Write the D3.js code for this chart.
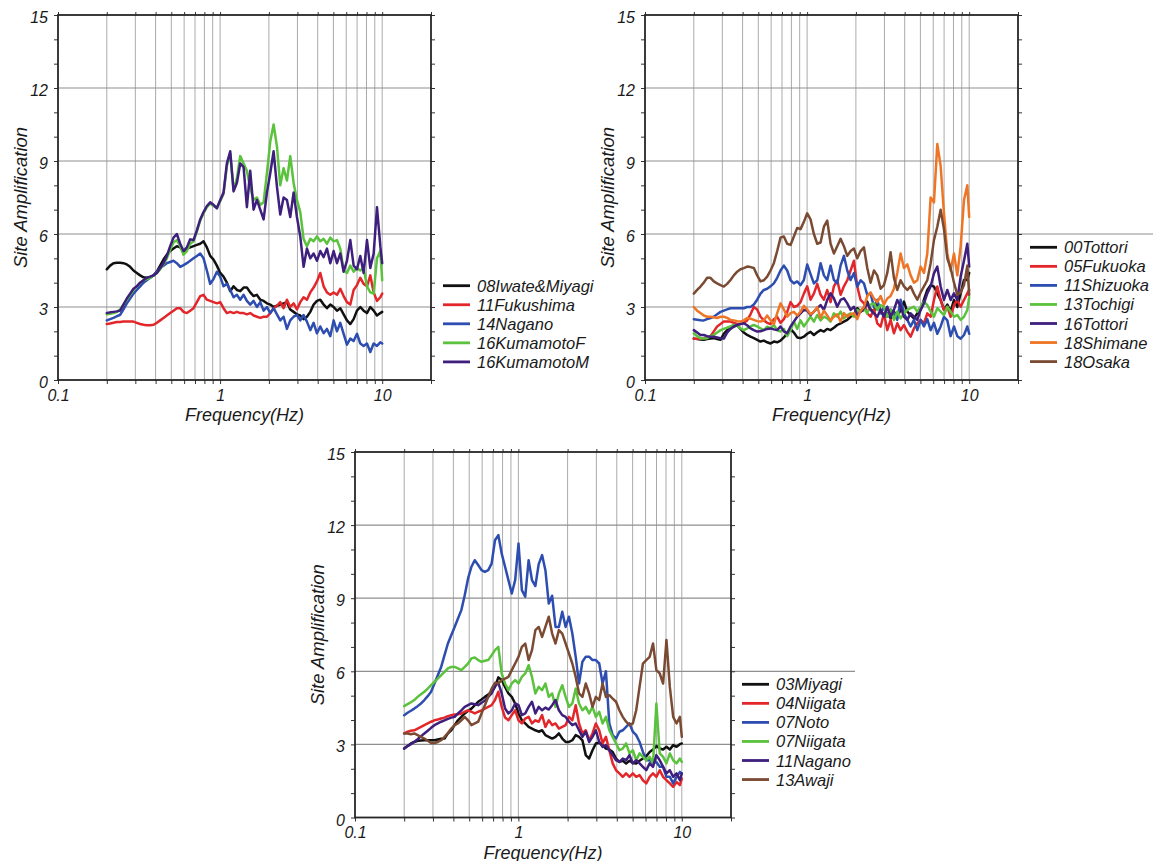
<!DOCTYPE html>
<html>
<head>
<meta charset="utf-8">
<script src="https://cdn.jsdelivr.net/npm/d3@7"></script>
<style>
  body { margin: 0; background: #fff; }
  text { font-family: "Liberation Sans", Arial, sans-serif; font-style: italic; fill: #1a1a1a; }
</style>
</head>
<body>
<svg id="chart" width="1161" height="861"></svg>
<script>
// Common frequency sampling (Hz) shared by every site-amplification curve
const freqHz = [0.2000,0.2097,0.2199,0.2305,0.2417,0.2535,0.2658,0.2786,0.2922,0.3063,
  0.3212,0.3368,0.3531,0.3703,0.3882,0.4071,0.4268,0.4475,0.4693,0.4920,
  0.5159,0.5410,0.5672,0.5947,0.6236,0.6538,0.6856,0.7188,0.7537,0.7903,
  0.8286,0.8688,0.9110,0.9552,1.0015,1.050,1.101,1.155,1.211,1.270,
  1.331,1.396,1.463,1.534,1.609,1.687,1.769,1.855,1.945,2.039,
  2.138,2.242,2.350,2.464,2.584,2.709,2.841,2.978,3.123,3.274,
  3.433,3.600,3.775,3.958,4.150,4.351,4.562,4.784,5.016,5.259,
  5.514,5.782,6.062,6.356,6.665,6.988,7.327,7.683,8.055,8.446,
  8.856,9.286,9.736,10.0];

// Upper-left group
const iwateMiyagi08 = [4.55,4.7,4.8,4.82,4.82,4.8,4.75,4.65,4.5,4.4, 4.3,4.22,4.2,4.22,4.3,4.45,4.7,4.95,5.15,5.3, 5.4,5.5,5.45,5.3,5.4,5.45,5.5,5.55,5.6,5.7, 5.45,5.1,4.95,4.7,4.4,4.25,4.0,3.65,3.85,3.7, 3.65,3.8,3.8,3.6,3.45,3.5,3.3,3.25,3.15,3.1, 3.0,3.05,3.1,3.15,3.2,2.9,2.8,2.7,2.65,2.5, 2.6,2.8,3.1,3.25,3.3,3.1,2.95,3.1,3.0,2.85, 2.95,2.7,2.45,2.3,2.5,2.85,3.0,2.85,2.75,3.0, 2.85,2.65,2.75,2.8];
const fukushima11 = [2.3,2.32,2.35,2.38,2.38,2.4,2.4,2.4,2.4,2.35, 2.3,2.27,2.25,2.25,2.27,2.35,2.45,2.55,2.65,2.75, 2.85,2.95,2.95,2.8,2.75,2.85,2.95,3.2,3.45,3.5, 3.3,3.25,3.2,3.15,3.2,2.95,2.75,2.8,2.75,2.8, 2.75,2.75,2.7,2.75,2.65,2.6,2.55,2.6,2.6,2.75, 2.95,3.05,3.2,2.95,3.3,3.0,3.15,2.9,3.2,3.4, 3.3,3.6,3.8,4.05,4.4,3.85,3.6,3.5,3.6,3.5, 3.75,3.45,3.2,3.1,3.7,3.9,4.2,3.95,3.85,4.3, 3.6,3.25,3.4,3.55];
const nagano14 = [2.45,2.5,2.55,2.62,2.68,2.9,3.15,3.35,3.55,3.7, 3.85,4.0,4.1,4.2,4.3,4.45,4.6,4.7,4.8,4.85, 4.9,4.8,4.65,4.72,4.8,4.9,5.0,5.1,5.2,5.0, 4.5,3.95,4.15,4.45,4.25,3.85,3.95,3.7,3.4,3.5, 3.3,3.5,3.25,3.1,3.25,3.0,3.2,2.85,3.0,2.75, 2.95,2.7,2.45,2.6,2.1,2.45,2.6,2.67,2.45,2.67, 2.4,2.05,2.35,1.92,2.2,1.92,2.1,1.8,2.45,2.0, 2.35,1.9,1.45,1.7,1.6,1.9,1.5,1.4,1.5,1.15, 1.5,1.4,1.55,1.5];
const kumamotoF16 = [2.7,2.72,2.75,2.8,2.9,3.1,3.3,3.5,3.7,3.85, 4.0,4.1,4.15,4.2,4.3,4.4,4.55,4.75,5.0,5.35, 5.65,5.75,5.5,5.15,5.3,5.6,5.7,6.1,6.55,6.85, 7.1,7.25,7.15,7.1,7.35,7.65,8.8,9.3,7.8,8.3, 9.2,8.9,8.6,7.9,7.4,7.5,7.2,7.3,8.5,9.8, 10.5,9.6,8.0,8.7,8.2,9.2,8.1,7.4,6.9,5.8, 5.5,5.8,5.7,5.9,5.7,5.8,5.6,5.85,5.7,5.75, 5.4,4.5,4.4,4.7,4.45,4.6,4.5,4.6,3.85,3.6, 3.55,5.0,5.3,4.1];
const kumamotoM16 = [2.75,2.78,2.8,2.82,2.85,3.1,3.35,3.55,3.75,3.85, 4.0,4.1,4.2,4.25,4.3,4.4,4.6,4.8,5.1,5.5, 5.85,6.0,5.6,5.3,5.45,5.78,5.75,6.15,6.6,6.9, 7.15,7.3,7.2,7.05,7.4,7.7,8.9,9.4,7.75,8.1, 8.9,8.75,7.1,8.6,7.0,7.4,7.0,6.6,7.7,8.5, 9.4,7.95,6.8,7.5,7.4,6.7,7.7,6.7,5.9,4.65, 5.4,5.0,5.2,4.9,5.3,5.05,5.4,4.8,5.3,4.8, 5.2,4.45,4.9,5.75,4.7,4.55,5.1,4.4,5.75,4.6, 5.2,7.1,5.5,4.8];

// Upper-right group
const tottori00 = [1.7,1.68,1.66,1.65,1.68,1.7,1.72,1.68,1.65,1.9, 2.05,2.12,2.2,2.25,2.1,1.95,1.85,1.78,1.72,1.65, 1.58,1.62,1.55,1.5,1.58,1.55,1.62,1.75,1.92,2.1, 1.95,1.75,1.72,1.78,1.9,1.98,1.85,1.96,2.05,1.99, 2.1,2.05,2.15,2.26,2.33,2.4,2.47,2.6,2.67,2.95, 2.81,2.88,3.22,2.9,2.81,3.2,2.88,2.6,2.74,2.53, 2.81,2.6,2.88,3.22,2.81,2.67,2.53,2.74,2.88,3.3, 3.7,3.9,3.84,3.56,3.29,2.88,3.1,2.81,3.29,3.0, 3.56,4.11,4.11,4.4];
const fukuoka05 = [1.7,1.7,1.7,1.72,1.75,1.8,2.0,2.2,2.3,2.4, 2.4,2.4,2.35,2.3,2.3,2.35,2.45,2.7,3.0,2.9, 2.6,2.45,2.35,2.3,2.5,2.6,2.35,2.5,2.8,3.2, 3.0,3.05,3.2,3.55,3.85,3.3,3.55,3.95,3.5,3.3, 3.7,3.2,3.85,4.1,3.5,3.85,4.1,4.5,4.9,3.84, 3.29,3.15,2.74,2.6,2.9,2.33,2.19,2.74,2.05,2.47, 1.92,2.33,2.05,2.26,1.99,1.78,2.12,2.33,2.47,2.33, 2.74,2.6,3.29,3.84,3.29,2.88,3.01,2.6,3.08,3.29, 3.01,3.29,3.56,3.7];
const shizuoka11 = [2.5,2.48,2.46,2.45,2.5,2.55,2.6,2.7,2.8,2.85, 2.9,2.95,2.95,2.95,2.95,2.95,3.0,3.0,3.1,3.3, 3.55,3.7,3.75,3.85,3.97,4.2,4.5,4.7,4.5,4.1, 3.97,4.05,3.9,4.11,4.75,4.35,3.97,4.1,4.8,4.3, 4.11,4.7,4.11,3.97,4.7,5.1,4.5,4.11,4.4,3.84, 4.1,3.97,3.5,3.56,3.0,3.3,2.74,3.0,2.6,2.9, 2.75,2.47,3.3,2.74,2.47,2.2,2.47,2.05,2.47,2.2, 2.5,2.05,2.35,1.9,2.2,2.6,2.45,1.8,2.2,1.8, 1.7,1.85,2.2,1.9];
const tochigi13 = [1.92,1.8,1.72,1.71,1.72,1.8,1.85,1.95,2.05,2.1, 2.15,2.2,2.26,2.25,2.12,2.05,2.12,2.2,2.26,2.2, 2.12,2.05,2.19,2.12,2.26,2.05,1.99,2.1,1.8,2.05, 2.4,2.1,2.45,2.2,2.4,2.6,2.4,2.67,2.45,2.6, 2.53,2.4,2.74,2.6,2.81,2.53,2.67,2.74,2.6,2.88, 2.81,2.95,2.74,3.1,3.15,2.88,3.08,3.01,2.6,2.88, 2.47,2.81,2.53,2.74,2.88,2.95,3.01,2.81,3.01,3.22, 3.08,2.81,2.6,2.95,2.81,2.67,3.01,2.81,2.6,2.67, 2.47,2.6,2.88,3.4];
const tottori16 = [2.05,1.95,1.85,1.85,1.8,1.78,1.78,1.75,1.72,1.7, 1.95,2.1,2.2,2.26,2.3,2.33,2.25,2.12,2.05,1.99, 2.0,2.05,2.1,2.12,2.08,2.05,2.2,2.0,1.92,2.2, 2.4,2.6,2.74,2.88,2.85,2.67,2.81,2.95,3.08,2.88, 3.29,3.56,3.36,3.01,3.29,3.36,3.15,2.88,3.01,2.67, 2.81,2.95,3.15,2.88,2.74,2.6,2.88,2.6,3.01,2.6, 2.88,3.29,3.01,2.6,2.47,2.74,2.6,2.47,2.88,3.15, 3.56,3.84,4.38,4.66,3.84,3.29,3.7,3.29,3.56,3.29, 4.25,4.9,5.6,4.66];
const shimane18 = [3.0,2.85,2.75,2.65,2.6,2.6,2.58,2.55,2.6,2.6, 2.55,2.47,2.45,2.42,2.4,2.45,2.55,2.52,2.47,2.42, 2.4,2.45,2.65,2.45,2.3,2.75,3.15,2.9,2.6,2.75, 2.8,2.65,2.8,3.05,2.9,2.7,2.8,3.0,2.55,2.85, 2.65,2.45,2.6,2.7,2.4,2.75,2.6,2.7,2.75,2.5, 2.85,3.0,3.45,3.6,3.35,3.2,3.45,3.1,3.35,3.45, 3.75,4.4,5.2,4.6,4.75,4.3,4.0,4.1,4.66,4.4, 5.2,7.5,7.3,9.7,8.8,6.85,5.2,4.5,5.2,4.3, 5.5,7.4,8.0,6.7];
const osaka18 = [3.55,3.7,3.84,4.0,4.2,4.2,4.05,3.97,3.9,3.84, 3.95,4.11,4.3,4.45,4.55,4.6,4.66,4.64,4.6,4.3, 4.05,4.1,4.25,4.5,4.8,5.3,5.85,5.9,5.6,5.55, 5.9,6.25,6.2,6.5,6.85,6.6,6.0,5.6,5.65,6.3, 6.55,5.6,5.2,5.5,5.8,5.5,5.1,5.3,5.4,5.0, 5.3,5.45,4.6,4.0,4.5,4.3,3.75,3.9,4.4,5.25, 4.2,3.7,4.1,3.85,3.7,3.85,3.55,3.3,3.6,3.85, 4.1,4.8,5.75,6.3,7.0,6.2,5.0,4.6,4.0,3.5, 3.6,3.9,4.7,3.5];

// Lower group
const miyagi03 = [2.83,2.93,3.04,3.1,3.15,3.16,3.17,3.17,3.17,3.17, 3.2,3.23,3.24,3.45,3.58,3.79,3.99,4.13,4.27,4.38, 4.47,4.61,4.75,4.84,4.95,5.05,5.16,5.36,5.75,5.64, 5.36,5.09,4.95,4.68,4.27,3.99,3.86,3.72,3.65,3.58, 3.52,3.58,3.38,3.31,3.24,3.31,3.45,3.24,3.1,3.1, 3.17,3.38,3.31,3.17,2.56,2.42,2.76,3.04,3.08,2.97, 2.83,2.79,2.69,2.42,2.28,2.33,2.22,2.33,2.24,2.22, 2.33,2.42,2.52,2.69,2.79,2.93,2.83,2.79,2.9,2.79, 2.97,2.9,3.01,3.04];
const niigata04 = [3.45,3.52,3.56,3.58,3.65,3.72,3.79,3.86,3.93,3.99, 4.02,4.06,4.1,4.16,4.2,4.23,4.24,4.27,4.34,4.4, 4.34,4.27,4.34,4.4,4.47,4.54,4.61,4.82,5.16,4.54, 4.1,3.99,4.2,4.4,3.99,3.86,4.06,4.13,3.86,3.99, 3.93,4.2,3.72,3.99,3.79,3.86,3.65,3.72,3.79,4.13, 3.99,4.61,3.86,3.45,3.58,3.17,3.45,3.86,3.58,3.04, 3.31,2.76,2.22,1.94,1.81,1.67,1.81,1.67,1.81,1.67, 1.74,1.53,1.4,1.67,1.81,1.67,1.94,1.67,1.53,1.4, 1.26,1.46,1.33,1.6];
const noto07 = [4.2,4.3,4.38,4.47,4.57,4.68,4.82,4.98,5.16,5.5, 5.84,6.18,6.66,7.14,7.48,7.82,8.17,8.51,9.12,9.81, 10.29,10.56,10.36,10.15,10.08,10.15,10.42,11.38,11.59,10.83, 10.29,9.74,9.19,9.74,11.24,9.33,9.06,10.56,9.74,9.5, 10.4,10.77,10.15,8.78,9.1,7.82,7.82,8.44,7.82,8.24, 7.55,6.59,5.5,6.39,6.6,6.6,6.46,6.46,6.32,5.5, 6.0,3.86,3.38,3.24,3.52,3.58,3.72,3.86,3.52,3.38, 3.1,2.69,2.35,2.35,2.22,2.28,2.08,2.08,1.67,1.67, 1.4,1.67,1.87,1.8];
const niigata07 = [4.57,4.65,4.73,4.82,4.95,5.06,5.16,5.29,5.43,5.57, 5.7,5.84,5.98,6.12,6.18,6.18,6.12,6.05,6.18,6.32, 6.53,6.57,6.46,6.39,6.43,6.46,6.66,6.87,7.0,5.91, 5.5,5.23,5.5,5.64,5.5,5.77,5.91,6.25,5.77,5.09, 5.36,5.23,5.5,4.95,5.09,4.54,5.09,5.43,4.95,4.54, 4.68,5.29,4.68,4.4,4.54,4.27,4.54,4.13,4.34,3.86, 4.13,3.58,3.31,3.04,2.76,2.83,3.04,2.63,2.76,2.35, 2.63,2.49,2.35,2.49,2.22,4.68,2.63,2.49,2.22,2.63, 2.35,2.22,2.42,2.28];
const nagano11 = [2.83,2.93,3.01,3.1,3.21,3.34,3.45,3.56,3.68,3.79, 3.86,3.93,3.99,4.05,4.1,4.13,4.27,4.4,4.54,4.61, 4.68,4.65,4.61,4.71,4.79,4.95,5.09,5.39,5.53,5.09, 4.47,4.27,4.4,4.68,4.61,4.2,4.27,4.54,4.75,4.27, 4.54,4.4,4.51,4.43,4.61,4.82,4.4,4.2,4.13,3.93, 3.79,3.86,3.58,3.31,3.52,3.1,3.31,3.58,3.1,2.9, 2.97,2.76,2.56,2.35,2.28,2.42,2.35,2.56,2.22,2.35, 2.22,2.08,1.94,2.22,2.08,2.56,2.35,2.08,1.81,1.94, 1.67,1.81,1.53,1.81];
const awaji13 = [3.45,3.45,3.42,3.45,3.38,3.31,3.24,3.15,3.06,3.06, 3.1,3.17,3.31,3.47,3.65,3.79,3.86,3.99,4.13,3.99, 3.79,3.86,3.93,4.27,4.61,4.95,5.29,5.53,5.5,5.64, 5.7,5.77,6.05,6.32,6.59,7.0,7.14,6.46,6.87,7.69, 7.82,7.41,7.82,8.24,7.55,7.14,7.69,7.55,7.14,6.73, 6.32,5.77,5.09,4.95,5.5,5.09,4.54,4.95,4.82,5.5, 4.95,5.02,4.88,4.75,4.4,4.13,3.93,3.79,3.86,4.4, 5.36,6.32,6.46,6.59,7.14,6.05,5.91,5.5,7.28,5.36, 4.13,3.86,4.13,3.31];

// Axis ticks
const freqTicks = [0.1,0.2,0.3,0.4,0.5,0.6,0.7,0.8,0.9,1,2,3,4,5,6,7,8,9,10,20];
const freqGrid = [0.2,0.3,0.4,0.5,0.6,0.7,0.8,0.9,1,2,3,4,5,6,7,8,9,10];
const freqLabels = [0.1, 1, 10];
const ampTicks = d3.range(0, 16);
const ampLabels = [0, 3, 6, 9, 12, 15];
const ampGrid = [3, 6, 9, 12];

const COLORS = {
  black: "#111111", red: "#e3262a", blue: "#2d4db0", green: "#5bc23d",
  purple: "#3e1f7d", orange: "#ef7526", brown: "#7a4a33"
};

const panels = [
  { left: 58, top: 15, width: 373, height: 365, legendX: 443, legendY: 285.7, gridReach: null,
    series: [
      { name: "08Iwate&Miyagi", values: iwateMiyagi08, color: COLORS.black },
      { name: "11Fukushima", values: fukushima11, color: COLORS.red },
      { name: "14Nagano", values: nagano14, color: COLORS.blue },
      { name: "16KumamotoF", values: kumamotoF16, color: COLORS.green },
      { name: "16KumamotoM", values: kumamotoM16, color: COLORS.purple }
    ] },
  { left: 645, top: 15, width: 373, height: 365, legendX: 1030, legendY: 247.3, gridReach: 1153,
    series: [
      { name: "00Tottori", values: tottori00, color: COLORS.black },
      { name: "05Fukuoka", values: fukuoka05, color: COLORS.red },
      { name: "11Shizuoka", values: shizuoka11, color: COLORS.blue },
      { name: "13Tochigi", values: tochigi13, color: COLORS.green },
      { name: "16Tottori", values: tottori16, color: COLORS.purple },
      { name: "18Shimane", values: shimane18, color: COLORS.orange },
      { name: "18Osaka", values: osaka18, color: COLORS.brown }
    ] },
  { left: 355, top: 452, width: 376, height: 365.5, legendX: 742, legendY: 684.3, gridReach: 855,
    series: [
      { name: "03Miyagi", values: miyagi03, color: COLORS.black },
      { name: "04Niigata", values: niigata04, color: COLORS.red },
      { name: "07Noto", values: noto07, color: COLORS.blue },
      { name: "07Niigata", values: niigata07, color: COLORS.green },
      { name: "11Nagano", values: nagano11, color: COLORS.purple },
      { name: "13Awaji", values: awaji13, color: COLORS.brown }
    ] }
];

const svg = d3.select("#chart");
svg.append("rect").attr("width", 1161).attr("height", 861).attr("fill", "#fff");

panels.forEach(drawPanel);

function drawPanel(p) {
  const x = d3.scaleLog().domain([0.1, 20]).range([p.left, p.left + p.width]);
  const y = d3.scaleLinear().domain([0, 15]).range([p.top + p.height, p.top]);
  const g = svg.append("g");
  const x0 = x.range()[0], x1 = x.range()[1];
  const y0 = y.range()[0], y1 = y.range()[1];

  // grid
  g.append("g").selectAll("line").data(freqGrid).join("line")
    .attr("x1", d => x(d)).attr("x2", d => x(d))
    .attr("y1", y0).attr("y2", y1)
    .attr("stroke", "#ababab").attr("stroke-width", 1);
  g.append("g").selectAll("line").data(ampGrid).join("line")
    .attr("x1", x0).attr("x2", d => (d === 6 && p.gridReach) ? p.gridReach : x1)
    .attr("y1", d => y(d)).attr("y2", d => y(d))
    .attr("stroke", "#8f8f8f").attr("stroke-width", 1.2);

  // axes
  const fmtF = d => freqLabels.includes(d) ? d3.format("~g")(d) : "";
  const fmtA = d => ampLabels.includes(d) ? String(d) : "";
  const styleAxis = sel => {
    sel.select(".domain").remove();
    sel.selectAll(".tick line").attr("stroke", "#333").attr("stroke-width", 1);
    sel.selectAll("text").attr("font-size", 16).attr("fill", "#1a1a1a")
      .style("font-style", "italic").style("font-family", '"Liberation Sans", Arial, sans-serif');
  };
  g.append("g").attr("transform", `translate(0,${y0})`)
    .call(d3.axisBottom(x).tickValues(freqTicks).tickFormat(fmtF).tickSize(4).tickPadding(5.5))
    .call(styleAxis);
  g.append("g").attr("transform", `translate(0,${y1})`)
    .call(d3.axisTop(x).tickValues(freqTicks).tickFormat("").tickSize(3))
    .call(styleAxis);
  g.append("g").attr("transform", `translate(${x0},0)`)
    .call(d3.axisLeft(y).tickValues(ampTicks).tickFormat(fmtA).tickSize(4).tickPadding(6))
    .call(styleAxis)
    .selectAll("text").attr("dy", "0.47em");
  g.append("g").attr("transform", `translate(${x1},0)`)
    .call(d3.axisRight(y).tickValues(ampTicks).tickFormat("").tickSize(4))
    .call(styleAxis);

  // frame
  g.append("rect").attr("x", x0).attr("y", y1).attr("width", x1 - x0).attr("height", y0 - y1)
    .attr("fill", "none").attr("stroke", "#262626").attr("stroke-width", 1.8);

  // curves
  const line = d3.line().x((d, i) => x(freqHz[i])).y(d => y(d));
  g.append("g").selectAll("path").data(p.series).join("path")
    .attr("d", s => line(s.values))
    .attr("fill", "none").attr("stroke", s => s.color)
    .attr("stroke-width", 2.5).attr("stroke-linejoin", "round").attr("stroke-linecap", "round");

  // axis titles
  g.append("text").attr("x", (x0 + x1) / 2).attr("y", y0 + 41)
    .attr("text-anchor", "middle").attr("font-size", 18).text("Frequency(Hz)");
  g.append("text").attr("transform", `translate(${x0 - 31},${(y0 + y1) / 2}) rotate(-90)`)
    .attr("text-anchor", "middle").attr("font-size", 18.5).text("Site Amplification");

  // legend
  const lg = g.append("g").selectAll("g").data(p.series).join("g")
    .attr("transform", (s, i) => `translate(${p.legendX},${p.legendY + i * 19.05})`);
  lg.append("line").attr("x1", 0).attr("x2", 27).attr("y1", 0).attr("y2", 0)
    .attr("stroke", s => s.color).attr("stroke-width", 2.8);
  lg.append("text").attr("x", 34).attr("y", 6).attr("font-size", 16.5).text(s => s.name);
}
</script>
</body>
</html>
